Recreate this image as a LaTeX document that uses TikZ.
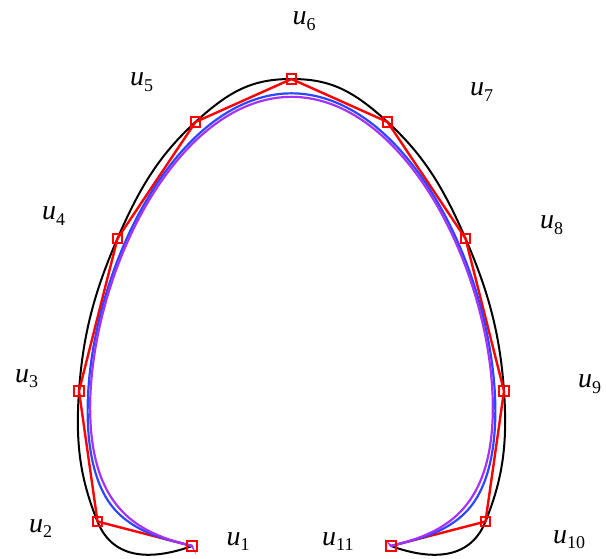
\documentclass[tikz,border=0pt]{standalone}
\usepackage{fontspec}
\setmainfont{Liberation Serif}
\usetikzlibrary{calc}
\definecolor{polyred}{RGB}{255,0,0}
\definecolor{splblue}{RGB}{45,70,255}
\definecolor{splpurple}{RGB}{165,50,250}
\newcommand{\ulab}[1]{\textit{u}\raisebox{-5.5pt}{\fontsize{18}{18}\selectfont #1}}

\begin{document}
\begin{tikzpicture}[
  x=1pt, y=-1pt,
  font=\fontsize{28}{30}\selectfont,
  ctrl/.style={draw=polyred, line width=1.8pt, rectangle,
    minimum size=9.5pt, inner sep=0pt},
  lab/.style={anchor=base west, inner sep=0pt},
  interp/.style={black, line width=2pt},
  poly/.style={polyred, line width=2.4pt, line join=round},
  cubic/.style={splblue, line width=2.2pt},
  quart/.style={splpurple, line width=2.2pt}
]
\useasboundingbox (0,0) rectangle (606,559);

% ---- control points ----
\coordinate (u1) at (192,546);
\coordinate (u2) at (97.5,521.5);
\coordinate (u3) at (79,391);
\coordinate (u4) at (117.5,238.5);
\coordinate (u5) at (195.5,122);
\coordinate (u6) at (291.5,79);
\coordinate (u7) at (387.5,122);
\coordinate (u8) at (465.5,238.5);
\coordinate (u9) at (504,391);
\coordinate (u10) at (485.5,521.5);
\coordinate (u11) at (391,546);

% ---- tangents of the interpolating curve ----
\coordinate (t1) at (-37.6,13.6);
\coordinate (t2) at (-16,-40);
\foreach \i/\p/\n in {3/2/4,4/3/5,5/4/6,6/5/7,7/6/8,8/7/9,9/8/10}
  \coordinate (t\i) at ($0.2*(u\n)-0.2*(u\p)$);
\coordinate (t10) at (-16,40);
\coordinate (t11) at (-37.6,-13.6);

% ---- interpolating curve ----
\draw[interp] (u1)
  \foreach \i/\n in {1/2,2/3,3/4,4/5,5/6,6/7,7/8,8/9,9/10,10/11}{
    .. controls ($(u\i)+(t\i)$) and ($(u\n)-(t\n)$) .. (u\n)};

% ---- control polygon ----
\draw[poly] (u1) -- (u2) -- (u3) -- (u4) -- (u5) -- (u6) -- (u7)
  -- (u8) -- (u9) -- (u10) -- (u11);

% ---- cubic B-spline, end points tripled ----
\def\cx{{192,192,192,97.5,79,117.5,195.5,291.5,387.5,465.5,504,485.5,391,391,391}}
\def\cy{{546,546,546,521.5,391,238.5,122,79,122,238.5,391,521.5,546,546,546}}
\xdef\cubicpts{}
\foreach \s in {0,...,11}{
  \pgfmathtruncatemacro\sb{\s+1}
  \pgfmathtruncatemacro\sc{\s+2}
  \pgfmathtruncatemacro\sd{\s+3}
  \foreach \k in {0,...,11}{
    \pgfmathsetmacro\t{\k/12}
    \pgfmathsetmacro\wa{(1-\t)^3/6}
    \pgfmathsetmacro\wb{(3*\t^3-6*\t^2+4)/6}
    \pgfmathsetmacro\wc{(-3*\t^3+3*\t^2+3*\t+1)/6}
    \pgfmathsetmacro\wd{\t^3/6}
    \pgfmathsetmacro\px{\wa*\cx[\s]+\wb*\cx[\sb]+\wc*\cx[\sc]+\wd*\cx[\sd]}
    \pgfmathsetmacro\py{\wa*\cy[\s]+\wb*\cy[\sb]+\wc*\cy[\sc]+\wd*\cy[\sd]}
    \xdef\cubicpts{\cubicpts (\px,\py)}
  }
}
\edef\drawcubic{\noexpand\draw[cubic] plot[smooth] coordinates {\cubicpts (391,546)};}
\drawcubic

% ---- quartic B-spline, end points quadrupled ----
\def\qx{{192,192,192,192,97.5,79,117.5,195.5,291.5,387.5,465.5,504,485.5,391,391,391,391}}
\def\qy{{546,546,546,546,521.5,391,238.5,122,79,122,238.5,391,521.5,546,546,546,546}}
\xdef\quartpts{}
\foreach \s in {0,...,12}{
  \pgfmathtruncatemacro\sb{\s+1}
  \pgfmathtruncatemacro\sc{\s+2}
  \pgfmathtruncatemacro\sd{\s+3}
  \pgfmathtruncatemacro\se{\s+4}
  \foreach \k in {0,...,11}{
    \pgfmathsetmacro\t{\k/12}
    \pgfmathsetmacro\wa{(1-\t)^4/24}
    \pgfmathsetmacro\wb{(-4*\t^4+12*\t^3-6*\t^2-12*\t+11)/24}
    \pgfmathsetmacro\wc{(6*\t^4-12*\t^3-6*\t^2+12*\t+11)/24}
    \pgfmathsetmacro\wd{(-4*\t^4+4*\t^3+6*\t^2+4*\t+1)/24}
    \pgfmathsetmacro\we{\t^4/24}
    \pgfmathsetmacro\px{\wa*\qx[\s]+\wb*\qx[\sb]+\wc*\qx[\sc]+\wd*\qx[\sd]+\we*\qx[\se]}
    \pgfmathsetmacro\py{\wa*\qy[\s]+\wb*\qy[\sb]+\wc*\qy[\sc]+\wd*\qy[\sd]+\we*\qy[\se]}
    \xdef\quartpts{\quartpts (\px,\py)}
  }
}
\edef\drawquart{\noexpand\draw[quart] plot[smooth] coordinates {\quartpts (391,546)};}
\drawquart

% ---- control point markers ----
\foreach \i in {1,...,11}
  \node[ctrl] (m\i) at (u\i) {};

% ---- labels ----
\node[lab] (l1) at (226.5,545) {\ulab{1}};
\node[lab] (l2) at (29,532) {\ulab{2}};
\node[lab] (l3) at (15,382) {\ulab{3}};
\node[lab] (l4) at (42,220) {\ulab{4}};
\node[lab] (l5) at (130,86) {\ulab{5}};
\node[lab] (l6) at (292.5,25) {\ulab{6}};
\node[lab] (l7) at (470,96) {\ulab{7}};
\node[lab] (l8) at (540,229) {\ulab{8}};
\node[lab] (l9) at (578,388) {\ulab{9}};
\node[lab] (l10) at (553,543) {\ulab{10}};
\node[lab] (l11) at (322,545) {\ulab{11}};

\end{tikzpicture}
\end{document}
